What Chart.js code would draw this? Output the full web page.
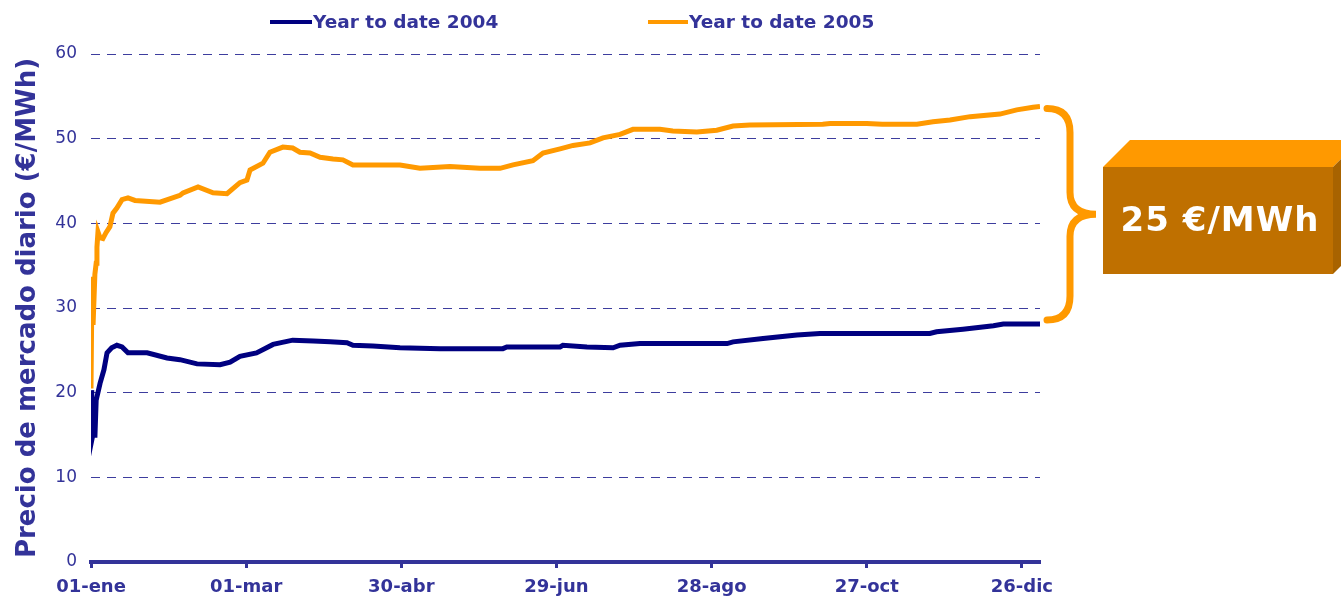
<!DOCTYPE html>
<html>
<head>
<meta charset="utf-8">
<script src="https://cdn.jsdelivr.net/npm/chart.js@4"></script>
<style>
  html, body { margin: 0; padding: 0; background: #fff; }
  #wrap { width: 1341px; height: 597px; }
</style>
</head>
<body>
<div id="wrap"><canvas id="lineChart" width="1341" height="597"></canvas></div>
<script>
// day of year (0 = 01-ene) and running average price
const days2004 = [0, 0.3, 0.7, 1, 1.5, 2, 3.5, 5, 6.2, 8, 10, 12, 14.3, 21.7, 29.4, 34.4, 41, 49.9, 53.8, 57.6,
    64, 70.4, 78, 86, 92.5, 99, 101.3, 109, 119.5, 135, 159.3, 160.8, 181.4, 182.5, 191.8, 201.9, 204.6, 212.3, 246, 248.3,
    259.9, 273, 281.9, 324.4, 327, 337.2, 349, 352.8, 367];
const values2004 = [20.3, 14.4, 15, 17.5, 14.7, 19.1, 21.1, 22.7, 24.7, 25.3, 25.6, 25.4, 24.7, 24.7, 24.1, 23.9, 23.4, 23.3, 23.6, 24.3,
    24.7, 25.7, 26.2, 26.1, 26, 25.9, 25.6, 25.5, 25.3, 25.2, 25.2, 25.4, 25.4, 25.6, 25.4, 25.3, 25.6, 25.8, 25.8, 26,
    26.4, 26.8, 27, 27, 27.2, 27.5, 27.9, 28.1, 28.1];

const days2005 = [0, 0.4, 0.8, 1.5, 2, 2.3, 2.7, 3.5, 4.6, 5.8, 7.3, 8.5, 10, 12, 14.3, 17, 26.7, 34.4, 35.6, 41.4,
    47.2, 52.6, 57.6, 60.3, 61.5, 66.5, 69.2, 74.2, 78, 80.8, 84.7, 88.6, 93.6, 97.4, 101.3, 112.9, 119.5, 127.2, 132.3, 138.8,
    150.4, 158.2, 163.2, 170.9, 174.8, 181.4, 186.4, 193, 198, 204.6, 209.6, 220, 225, 234.3, 242, 248.3, 254.8, 283, 285.8, 300,
    306, 319.4, 325.6, 332.2, 340, 351.5, 358, 364.3, 367];
const values2005 = [20.5, 33.7, 28, 34, 35.3, 37.2, 39, 38.3, 38.2, 38.9, 39.6, 41.2, 41.8, 42.8, 43, 42.7, 42.5, 43.3, 43.6, 44.3,
    43.6, 43.5, 44.8, 45.1, 46.3, 47.1, 48.4, 49, 48.9, 48.4, 48.3, 47.8, 47.6, 47.5, 46.9, 46.9, 46.9, 46.5, 46.6, 46.7,
    46.5, 46.5, 46.9, 47.4, 48.3, 48.8, 49.2, 49.5, 50.1, 50.5, 51.1, 51.1, 50.9, 50.8, 51, 51.5, 51.6, 51.7, 51.8, 51.8,
    51.7, 51.7, 52, 52.2, 52.6, 52.9, 53.4, 53.7, 53.8];

const xTickDays = [0, 60, 120, 180, 240, 300, 360];
const xTickLabels = ['01-ene', '01-mar', '30-abr', '29-jun', '28-ago', '27-oct', '26-dic'];
const seriesLabels = ['Year to date 2004', 'Year to date 2005'];
const gapLabel = '25 €/MWh';

const textColor = '#333399';
const font = 'DejaVu Sans';

function toPoints(xs, ys) {
    return xs.map((d, i) => ({ x: d, y: ys[i] }));
}

// legend, brace and the 3d box on the right
const extras = {
    id: 'extras',
    afterDraw(chart) {
        const ctx = chart.ctx;
        const ds = chart.data.datasets;
        ctx.save();

        // legend
        const legendAt = [[270, 312], [648, 688]];
        ctx.font = 'bold 18.5px ' + font;
        ctx.textBaseline = 'middle';
        ds.forEach((d, i) => {
            const [a, b] = legendAt[i];
            ctx.strokeStyle = d.borderColor;
            ctx.lineWidth = 4;
            ctx.beginPath();
            ctx.moveTo(a, 22);
            ctx.lineTo(b, 22);
            ctx.stroke();
            ctx.fillStyle = textColor;
            ctx.fillText(d.label, b + 1, 23);
        });

        // brace between the two last values
        const y = chart.scales.y;
        const y1 = y.getPixelForValue(values2005[values2005.length - 1]) + 2;
        const y2 = y.getPixelForValue(values2004[values2004.length - 1]) - 4;
        const ym = (y1 + y2) / 2;
        const x0 = chart.chartArea.right + 7, xs = x0 + 23, xp = x0 + 49;
        ctx.strokeStyle = '#FF9900';
        ctx.lineWidth = 7;
        ctx.lineCap = 'round';
        ctx.beginPath();
        ctx.moveTo(x0, y1);
        ctx.quadraticCurveTo(xs, y1, xs, y1 + 24);
        ctx.lineTo(xs, ym - 22);
        ctx.quadraticCurveTo(xs, ym, xp, ym);
        ctx.quadraticCurveTo(xs, ym, xs, ym + 22);
        ctx.lineTo(xs, y2 - 24);
        ctx.quadraticCurveTo(xs, y2, x0, y2);
        ctx.stroke();

        // box
        const bx = 1103, by = 167, bw = 230, bh = 107, dx = 27, dy = 27;
        ctx.fillStyle = '#FF9900';
        ctx.beginPath();
        ctx.moveTo(bx, by);
        ctx.lineTo(bx + dx, by - dy);
        ctx.lineTo(bx + bw + dx, by - dy);
        ctx.lineTo(bx + bw, by);
        ctx.closePath();
        ctx.fill();
        ctx.fillStyle = '#A86300';
        ctx.beginPath();
        ctx.moveTo(bx + bw, by);
        ctx.lineTo(bx + bw + dx, by - dy);
        ctx.lineTo(bx + bw + dx, by + bh - dy);
        ctx.lineTo(bx + bw, by + bh);
        ctx.closePath();
        ctx.fill();
        ctx.fillStyle = '#BF7000';
        ctx.fillRect(bx, by, bw, bh);
        ctx.fillStyle = '#ffffff';
        ctx.font = 'bold 34px ' + font;
        ctx.letterSpacing = '1px';
        ctx.textAlign = 'center';
        ctx.fillText(gapLabel, bx + bw / 2 + 2, by + bh / 2 + 2);
        ctx.restore();
    }
};

const data = {
    datasets: [{
        label: seriesLabels[0],
        data: toPoints(days2004, values2004),
        borderColor: '#000080',
        backgroundColor: '#000080',
        borderWidth: 5,
        pointRadius: 0,
        tension: 0
    }, {
        label: seriesLabels[1],
        data: toPoints(days2005, values2005),
        borderColor: '#FF9900',
        backgroundColor: '#FF9900',
        borderWidth: 5,
        pointRadius: 0,
        tension: 0
    }]
};

const config = {
    type: 'line',
    data,
    plugins: [extras],
    options: {
        responsive: false,
        animation: false,
        layout: { padding: { top: 54, right: 301, left: 0, bottom: 0 } },
        plugins: {
            legend: { display: false },
            tooltip: { enabled: false }
        },
        scales: {
            x: {
                type: 'linear',
                min: 0,
                max: 367,
                afterBuildTicks: (s) => { s.ticks = xTickDays.map(v => ({ value: v })); },
                afterFit: (s) => { s.height = 35; },
                ticks: {
                    color: textColor,
                    font: { family: font, size: 18, weight: 'bold' },
                    padding: 9,
                    maxRotation: 0,
                    autoSkip: false,
                    callback: (v, i) => xTickLabels[i]
                },
                grid: {
                    drawOnChartArea: false,
                    drawTicks: true,
                    tickLength: 6,
                    tickWidth: 3,
                    tickColor: textColor
                },
                border: { color: textColor, width: 4 }
            },
            y: {
                min: 0,
                max: 60,
                afterFit: (s) => { s.width = 91; },
                ticks: {
                    stepSize: 10,
                    color: textColor,
                    font: { family: font, size: 17 },
                    padding: 14
                },
                grid: {
                    color: '#3d3d9e',
                    lineWidth: 1,
                    drawTicks: false
                },
                border: { display: false, dash: [9, 7] },
                title: {
                    display: true,
                    text: 'Precio de mercado diario (€/MWh)',
                    color: textColor,
                    font: { family: font, size: 26, weight: 'bold' },
                    padding: { top: 13, bottom: 0 }
                }
            }
        }
    }
};

const lineChart = new Chart(document.getElementById('lineChart').getContext('2d'), config);
</script>
</body>
</html>
